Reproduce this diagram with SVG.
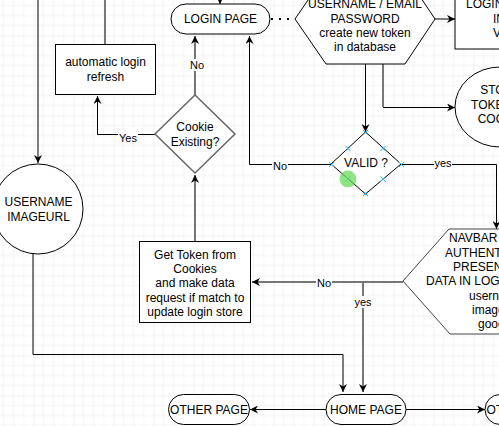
<svg xmlns="http://www.w3.org/2000/svg" width="499" height="426" viewBox="0 0 499 426">
<defs>
<pattern id="grid" width="40" height="40" patternUnits="userSpaceOnUse" x="33.5" y="35.5">
<path d="M10 0V40M20 0V40M30 0V40M0 10H40M0 20H40M0 30H40" stroke="#f2f2f2" stroke-width="1" fill="none"/>
<path d="M0 0V40M0 0H40" stroke="#e3e3e3" stroke-width="1" fill="none"/>
</pattern>
<marker id="arr" viewBox="0 0 10 10" refX="10" refY="5" markerWidth="8" markerHeight="8" markerUnits="userSpaceOnUse" orient="auto">
<path d="M0,0 L10,5 L0,10 L3,5 z" fill="#000"/>
</marker>
<clipPath id="page"><rect x="0" y="0" width="499" height="426"/></clipPath>
</defs>
<style>
text{font-family:"Liberation Sans",Arial,sans-serif;font-size:12px;fill:#000;text-anchor:middle}
.lbl{font-size:11px}
.st{text-anchor:start}
.node{fill:#fff;stroke:#000;stroke-width:1}
.gnode{fill:#fff;stroke:#666;stroke-width:1.5}
.c{fill:none;stroke:#000;stroke-width:1}
.g{fill:none;stroke:#777;stroke-width:2}
.a{marker-end:url(#arr)}
.lb{fill:#fff}
.h{stroke:#29b6f2;stroke-width:1;fill:none}
</style>
<rect width="499" height="426" fill="#fff"/>
<rect width="499" height="426" fill="url(#grid)"/>

<g id="connectors">
<path class="c a" d="M38 0V163"/>
<path class="c a" d="M33 254V354.5H343V392"/>
<path class="g" d="M105 44V0"/>
<path class="c a" d="M155 134.5H97.5V96"/>
<path class="g a" d="M195 95V36"/>
<path class="g a" d="M195 241V175"/>
<path class="c a" d="M220 0V4"/>
<path d="M271 19H295" stroke="#000" stroke-width="2" stroke-dasharray="2 6" fill="none"/>
<path class="c a" d="M435 19H455"/>
<path class="c a" d="M365.5 64V132"/>
<path class="g" d="M383 64V107"/>
<path class="c a" d="M383 107.5H455"/>
<path class="c a" d="M331 164.5H249.5V36"/>
<path class="c a" d="M401 164.5H496.5V229"/>
<path class="g a" d="M403 282H252"/>
<path class="g a" d="M403 282H363V392"/>
<path class="c a" d="M326 409.5H250"/>
<path class="c a" d="M406 409.5H485"/>
<rect class="lb" x="118" y="130" width="20" height="12"/>
<text class="lbl" x="128" y="142">Yes</text>
<rect class="lb" x="189" y="59" width="16" height="12"/>
<text class="lbl" x="197" y="69">No</text>
<rect class="lb" x="272" y="159" width="16" height="12"/>
<text class="lbl" x="280" y="170">No</text>
<rect class="lb" x="434" y="157" width="18" height="12"/>
<text class="lbl" x="443" y="167">yes</text>
<rect class="lb" x="316" y="277" width="16" height="12"/>
<text class="lbl" x="324" y="287">No</text>
<rect class="lb" x="354" y="296" width="18" height="12"/>
<text class="lbl" x="363" y="306">yes</text>
</g>

<g id="login-page">
<rect class="node" x="171" y="4" width="99" height="30" rx="15"/>
<text x="220.5" y="23.3">LOGIN PAGE</text>
</g>

<g id="credentials">
<polygon class="node" points="295,19 326,64 405,64 435,19 405,-26 326,-26"/>
<text x="365" y="8.3">USERNAME / EMAIL</text>
<text x="365" y="22.6">PASSWORD</text>
<text x="365" y="37">create new token</text>
<text x="365" y="51.3">in database</text>
</g>

<g id="login-store">
<rect class="node" x="455" y="-20" width="90" height="69"/>
<text class="st" x="466" y="8.3">LOGIN STORE</text>
<text class="st" x="493" y="22.6">INITIAL</text>
<text class="st" x="493" y="37">VALUE</text>
</g>

<g id="store-token">
<ellipse class="node" cx="500" cy="107" rx="45" ry="40"/>
<text x="500.7" y="94.3">STORE</text>
<text x="499.3" y="108.6">TOKEN IN</text>
<text x="501" y="123">COOKIE</text>
</g>

<g id="valid">
<polygon class="node" points="365.5,132 401,164 365.5,194 331,164"/>
<text x="366" y="167.3">VALID ?</text>
<path class="h" d="M363 130l5 5m0-5l-5 5M329 162l5 5m0-5l-5 5M399 162l5 5m0-5l-5 5M363 191l5 5m0-5l-5 5M345.5 146l5 5m0-5l-5 5M380.5 146l5 5m0-5l-5 5M345.5 176.5l5 5m0-5l-5 5M380.5 176.5l5 5m0-5l-5 5"/>
<circle cx="348" cy="179" r="8.5" fill="#5fd94f" fill-opacity="0.7"/>
</g>

<g id="navbar">
<polygon points="449,229 560,229 600,281 560,334 450,334 403,281" fill="#fff" stroke="#444" stroke-width="1"/>
<text class="st" x="449" y="242.3">NAVBAR SHOW</text>
<text class="st" x="445" y="256.6">AUTHENTICATED</text>
<text class="st" x="453" y="271">PRESENTS USER</text>
<text class="st" x="426" y="285.3">DATA IN LOGIN STORE</text>
<text class="st" x="469" y="299.6">username</text>
<text class="st" x="472" y="314">imageurl</text>
<text class="st" x="478" y="328.3">google</text>
</g>

<g id="auto-refresh">
<rect class="node" x="55.5" y="44.5" width="100" height="50"/>
<text x="105.5" y="66.3">automatic login</text>
<text x="105.5" y="81">refresh</text>
</g>

<g id="cookie-existing">
<polygon class="gnode" points="195,95 235,134 195,173 155,134"/>
<text x="195" y="131.3">Cookie</text>
<text x="195" y="146.3">Existing?</text>
</g>

<g id="userinfo">
<circle class="node" cx="38" cy="209" r="45"/>
<text x="38.5" y="206.3">USERNAME</text>
<text x="38.5" y="221.3">IMAGEURL</text>
</g>

<g id="get-token">
<rect class="node" x="139.5" y="241.5" width="111" height="81"/>
<text x="195" y="258.6">Get Token from</text>
<text x="195" y="272.9">Cookies</text>
<text x="195" y="287.3">and make data</text>
<text x="195" y="301.6">request if match to</text>
<text x="195" y="315.9">update login store</text>
</g>

<g id="home-page">
<rect class="node" x="326" y="394.5" width="80" height="30" rx="15"/>
<text x="366" y="413.8">HOME PAGE</text>
</g>

<g id="other-page-left">
<rect class="node" x="168.5" y="394.5" width="81" height="30" rx="15"/>
<text x="209" y="413.8">OTHER PAGE</text>
</g>

<g id="other-page-right">
<rect class="node" x="485" y="394.5" width="81" height="30" rx="15"/>
<text x="525.5" y="413.8">OTHER PAGE</text>
</g>
</svg>
